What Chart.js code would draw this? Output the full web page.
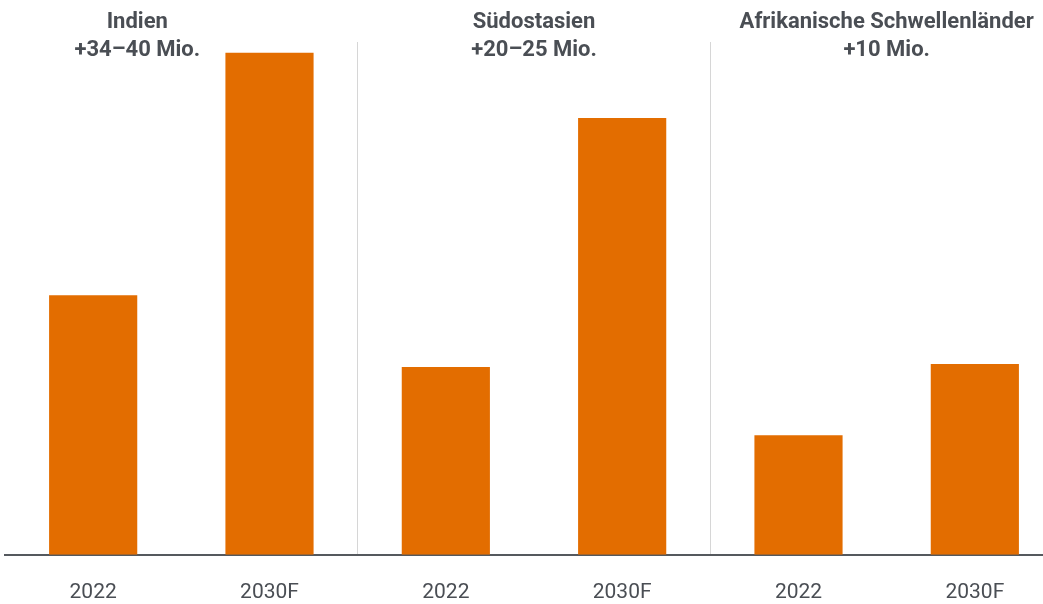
<!DOCTYPE html>
<html><head><meta charset="utf-8">
<script src="https://cdn.jsdelivr.net/npm/chart.js@4"></script>
<style>
html,body{margin:0;padding:0;background:#fff;overflow:hidden;}
#wrap{position:relative;width:1064px;height:630px;}
</style></head>
<body><div id="wrap"><canvas id="c"></canvas></div>
<script>
const categories = ['2022','2030F','2022','2030F','2022','2030F'];
const values = [50.6, 97.9, 36.6, 85.2, 23.3, 37.2];
const groupTitles = [['Indien','+34–40 Mio.'],['Südostasien','+20–25 Mio.'],['Afrikanische Schwellenländer','+10 Mio.']];
const titleAnchors = [0.25, 2.5, 4.5];

const titlePlugin = {
  id:'groupTitles',
  afterDraw(chart){
    const ctx = chart.ctx, x = chart.scales.x;
    ctx.save();
    ctx.fillStyle = '#4a4e54';
    ctx.font = 'bold 22px Roboto';
    ctx.textAlign = 'center';
    ctx.textBaseline = 'alphabetic';
    groupTitles.forEach((t,i)=>{
      const cx = x.getPixelForValue(titleAnchors[i]);
      ctx.fillText(t[0], cx, 28);
      ctx.fillText(t[1], cx, 56);
    });
    ctx.restore();
  }
};

new Chart(document.getElementById('c'), {
  type:'bar',
  data:{labels:categories, datasets:[{data:values, backgroundColor:'#e36d00', barPercentage:0.5, categoryPercentage:1.0}]},
  options:{
    responsive:true, maintainAspectRatio:false, animation:false,
    layout:{padding:{left:5, right:1, top:42, bottom:0}},
    plugins:{legend:{display:false}, tooltip:{enabled:false}},
    scales:{
      x:{
        offset:true,
        grid:{offset:true, drawTicks:false, color:(c)=> (c.index===2||c.index===4)?'#d6d6d6':'rgba(0,0,0,0)', lineWidth:1},
        border:{display:true, color:'#55595e', width:2},
        ticks:{color:'#4a4e54', font:{family:'Roboto', size:21}, padding:25}
      },
      y:{display:false, min:0, max:100}
    }
  },
  plugins:[titlePlugin]
});
</script></body></html>
